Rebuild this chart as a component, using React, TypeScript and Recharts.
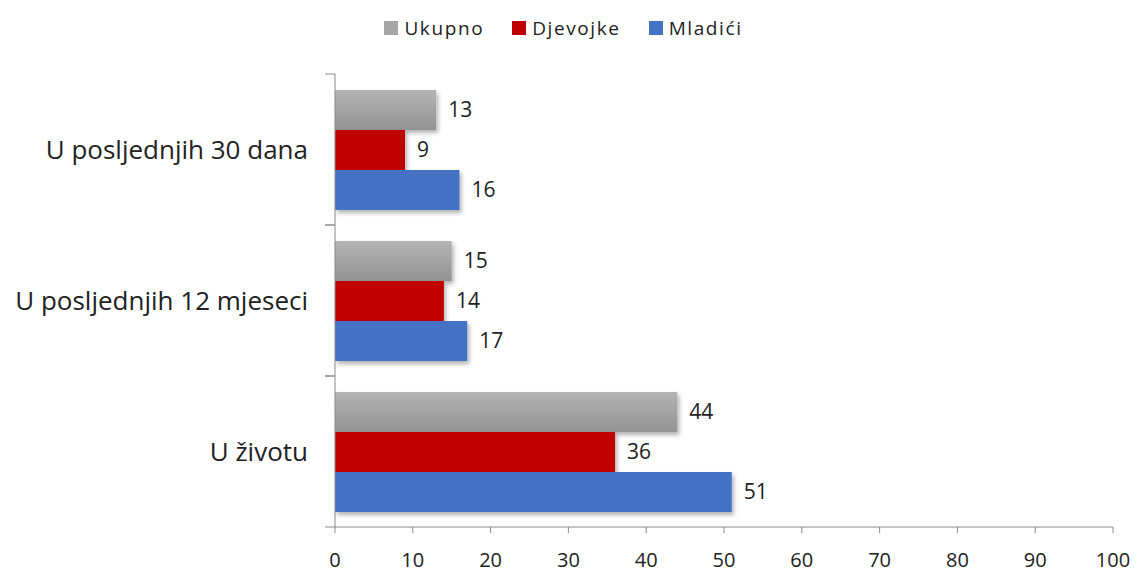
import { BarChart, Bar, XAxis, YAxis, LabelList } from 'recharts'

const categories = ['U posljednjih 30 dana', 'U posljednjih 12 mjeseci', 'U životu']
const ukupno = [13, 15, 44]
const djevojke = [9, 14, 36]
const mladici = [16, 17, 51]
const xTicks = [0, 10, 20, 30, 40, 50, 60, 70, 80, 90, 100]

const series = [
  { key: 'ukupno', name: 'Ukupno', color: '#a5a5a5', fill: 'url(#grayGrad)' },
  { key: 'djevojke', name: 'Djevojke', color: '#c00000', fill: '#c00000' },
  { key: 'mladici', name: 'Mladići', color: '#4472c4', fill: '#4472c4' },
]

const data = categories.map((name, i) => ({
  name,
  ukupno: ukupno[i],
  djevojke: djevojke[i],
  mladici: mladici[i],
}))

const W = 1137
const H = 574
const M = { top: 74, right: 24, bottom: 0, left: 0 }
const X_AXIS_H = 47
const AXIS_W = 335
const bandH = (H - M.top - M.bottom - X_AXIS_H) / categories.length
const FONT = '"Open Sans", "Noto Sans", sans-serif'
const axisColor = '#8c8c8c'

function CategoryTick(props: any) {
  const { y, payload } = props
  return (
    <g>
      <line x1={AXIS_W} y1={y - bandH / 2} x2={AXIS_W - 10} y2={y - bandH / 2} stroke={axisColor} />
      <line x1={AXIS_W} y1={y + bandH / 2} x2={AXIS_W - 10} y2={y + bandH / 2} stroke={axisColor} />
      <text x={AXIS_W - 27} y={y} dy={9} textAnchor="end" fontSize={26} fill="#222" fontFamily={FONT}>
        {payload.value}
      </text>
    </g>
  )
}

function LegendBox() {
  return (
    <div
      style={{
        position: 'absolute',
        top: 15,
        left: 0,
        width: W,
        display: 'flex',
        justifyContent: 'center',
        gap: 28,
        fontFamily: FONT,
        fontSize: 19,
        letterSpacing: 1.6,
        color: '#222',
        boxSizing: 'border-box',
        transform: 'translateX(-5px)',
      }}
    >
      {series.map((s) => (
        <span key={s.key} style={{ display: 'flex', alignItems: 'center', gap: 6 }}>
          <span style={{ width: 14, height: 14, background: s.color, display: 'inline-block' }} />
          {s.name}
        </span>
      ))}
    </div>
  )
}

export default function App() {
  return (
    <div style={{ position: 'absolute', left: 0, top: 0, width: W, height: H, background: '#fff' }}>
      <BarChart
        width={W}
        height={H}
        data={data}
        layout="vertical"
        margin={M}
        barCategoryGap="10.6%"
        barGap={0}
      >
        <defs>
          <linearGradient id="grayGrad" x1="0" y1="0" x2="0" y2="1">
            <stop offset="0%" stopColor="#b4b4b4" />
            <stop offset="100%" stopColor="#939393" />
          </linearGradient>
          <filter id="shadow" x="-5%" y="-20%" width="115%" height="160%">
            <feDropShadow dx="2" dy="3" stdDeviation="2" floodColor="#000" floodOpacity="0.3" />
          </filter>
        </defs>
        <XAxis
          type="number"
          domain={[0, 100]}
          ticks={xTicks}
          interval={0}
          height={X_AXIS_H}
          axisLine={{ stroke: axisColor }}
          tickLine={{ stroke: axisColor }}
          tickSize={6}
          tick={{ fontSize: 20, fill: '#222', fontFamily: FONT, dy: 18 }}
        />
        <YAxis
          type="category"
          dataKey="name"
          width={AXIS_W}
          axisLine={{ stroke: axisColor }}
          tickLine={false}
          tick={<CategoryTick />}
        />
        {series.map((s) => (
          <Bar
            key={s.key}
            dataKey={s.key}
            name={s.name}
            fill={s.fill}
            filter="url(#shadow)"
            isAnimationActive={false}
          >
            <LabelList
              dataKey={s.key}
              position="right"
              offset={12}
              fill="#222"
              fontSize={21}
              fontFamily={FONT}
            />
          </Bar>
        ))}
      </BarChart>
      <LegendBox />
    </div>
  )
}
